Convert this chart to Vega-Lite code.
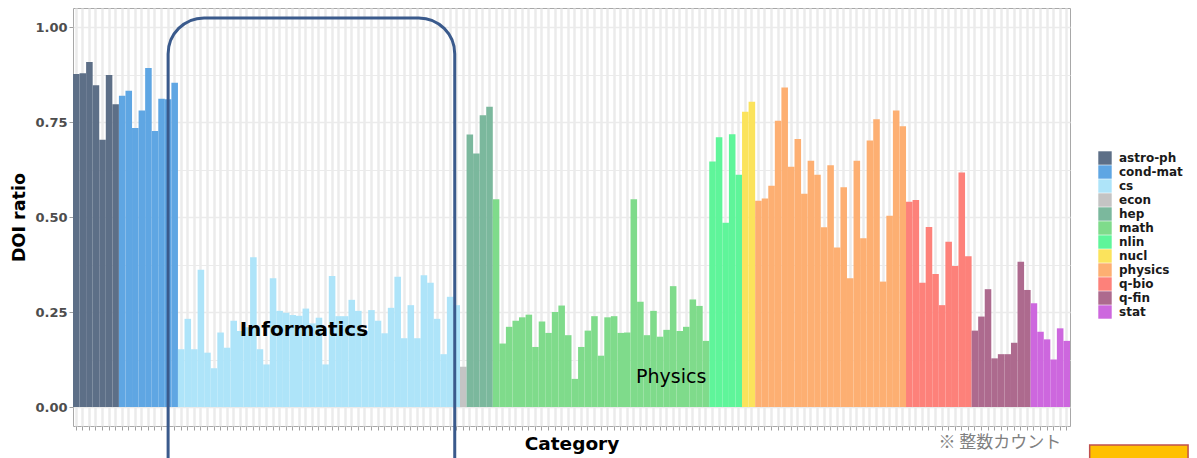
{
  "$schema": "https://vega.github.io/schema/vega-lite/v6.json",
  "width": 997,
  "height": 418,
  "autosize": {"type": "none"},
  "padding": {"left": 73, "top": 8, "right": 127, "bottom": 32},
  "background": "white",
  "config": {
    "view": {"stroke": "#a8a8a8", "strokeWidth": 1},
    "font": "DejaVu Sans",
    "legend": {
      "orient": "none", "legendX": 1025, "legendY": 143, "padding": 0,
      "symbolType": "square", "symbolSize": 180, "symbolStrokeWidth": 0, "symbolOpacity": 1,
      "labelFont": "DejaVu Sans", "labelFontWeight": "bold", "labelFontSize": 12, "labelColor": "#1a1a1a",
      "labelOffset": 7, "rowPadding": 0
    }
  },
  "datasets": {
    "bars": [
      {"id": "astro-ph 1", "group": "astro-ph", "ratio": 0.876},
      {"id": "astro-ph 2", "group": "astro-ph", "ratio": 0.878},
      {"id": "astro-ph 3", "group": "astro-ph", "ratio": 0.908},
      {"id": "astro-ph 4", "group": "astro-ph", "ratio": 0.847},
      {"id": "astro-ph 5", "group": "astro-ph", "ratio": 0.703},
      {"id": "astro-ph 6", "group": "astro-ph", "ratio": 0.874},
      {"id": "astro-ph 7", "group": "astro-ph", "ratio": 0.797},
      {"id": "cond-mat 1", "group": "cond-mat", "ratio": 0.819},
      {"id": "cond-mat 2", "group": "cond-mat", "ratio": 0.832},
      {"id": "cond-mat 3", "group": "cond-mat", "ratio": 0.734},
      {"id": "cond-mat 4", "group": "cond-mat", "ratio": 0.780},
      {"id": "cond-mat 5", "group": "cond-mat", "ratio": 0.892},
      {"id": "cond-mat 6", "group": "cond-mat", "ratio": 0.726},
      {"id": "cond-mat 7", "group": "cond-mat", "ratio": 0.811},
      {"id": "cond-mat 8", "group": "cond-mat", "ratio": 0.810},
      {"id": "cond-mat 9", "group": "cond-mat", "ratio": 0.853},
      {"id": "cs 1", "group": "cs", "ratio": 0.152},
      {"id": "cs 2", "group": "cs", "ratio": 0.232},
      {"id": "cs 3", "group": "cs", "ratio": 0.152},
      {"id": "cs 4", "group": "cs", "ratio": 0.361},
      {"id": "cs 5", "group": "cs", "ratio": 0.143},
      {"id": "cs 6", "group": "cs", "ratio": 0.102},
      {"id": "cs 7", "group": "cs", "ratio": 0.196},
      {"id": "cs 8", "group": "cs", "ratio": 0.156},
      {"id": "cs 9", "group": "cs", "ratio": 0.227},
      {"id": "cs 10", "group": "cs", "ratio": 0.200},
      {"id": "cs 11", "group": "cs", "ratio": 0.210},
      {"id": "cs 12", "group": "cs", "ratio": 0.394},
      {"id": "cs 13", "group": "cs", "ratio": 0.152},
      {"id": "cs 14", "group": "cs", "ratio": 0.112},
      {"id": "cs 15", "group": "cs", "ratio": 0.339},
      {"id": "cs 16", "group": "cs", "ratio": 0.253},
      {"id": "cs 17", "group": "cs", "ratio": 0.248},
      {"id": "cs 18", "group": "cs", "ratio": 0.242},
      {"id": "cs 19", "group": "cs", "ratio": 0.240},
      {"id": "cs 20", "group": "cs", "ratio": 0.259},
      {"id": "cs 21", "group": "cs", "ratio": 0.220},
      {"id": "cs 22", "group": "cs", "ratio": 0.235},
      {"id": "cs 23", "group": "cs", "ratio": 0.112},
      {"id": "cs 24", "group": "cs", "ratio": 0.345},
      {"id": "cs 25", "group": "cs", "ratio": 0.239},
      {"id": "cs 26", "group": "cs", "ratio": 0.239},
      {"id": "cs 27", "group": "cs", "ratio": 0.282},
      {"id": "cs 28", "group": "cs", "ratio": 0.253},
      {"id": "cs 29", "group": "cs", "ratio": 0.200},
      {"id": "cs 30", "group": "cs", "ratio": 0.255},
      {"id": "cs 31", "group": "cs", "ratio": 0.227},
      {"id": "cs 32", "group": "cs", "ratio": 0.194},
      {"id": "cs 33", "group": "cs", "ratio": 0.261},
      {"id": "cs 34", "group": "cs", "ratio": 0.343},
      {"id": "cs 35", "group": "cs", "ratio": 0.181},
      {"id": "cs 36", "group": "cs", "ratio": 0.268},
      {"id": "cs 37", "group": "cs", "ratio": 0.181},
      {"id": "cs 38", "group": "cs", "ratio": 0.347},
      {"id": "cs 39", "group": "cs", "ratio": 0.327},
      {"id": "cs 40", "group": "cs", "ratio": 0.232},
      {"id": "cs 41", "group": "cs", "ratio": 0.139},
      {"id": "cs 42", "group": "cs", "ratio": 0.290},
      {"id": "cs 43", "group": "cs", "ratio": 0.268},
      {"id": "econ 1", "group": "econ", "ratio": 0.106},
      {"id": "hep 1", "group": "hep", "ratio": 0.717},
      {"id": "hep 2", "group": "hep", "ratio": 0.667},
      {"id": "hep 3", "group": "hep", "ratio": 0.768},
      {"id": "hep 4", "group": "hep", "ratio": 0.790},
      {"id": "math 1", "group": "math", "ratio": 0.547},
      {"id": "math 2", "group": "math", "ratio": 0.167},
      {"id": "math 3", "group": "math", "ratio": 0.211},
      {"id": "math 4", "group": "math", "ratio": 0.227},
      {"id": "math 5", "group": "math", "ratio": 0.236},
      {"id": "math 6", "group": "math", "ratio": 0.243},
      {"id": "math 7", "group": "math", "ratio": 0.158},
      {"id": "math 8", "group": "math", "ratio": 0.225},
      {"id": "math 9", "group": "math", "ratio": 0.195},
      {"id": "math 10", "group": "math", "ratio": 0.250},
      {"id": "math 11", "group": "math", "ratio": 0.267},
      {"id": "math 12", "group": "math", "ratio": 0.189},
      {"id": "math 13", "group": "math", "ratio": 0.074},
      {"id": "math 14", "group": "math", "ratio": 0.158},
      {"id": "math 15", "group": "math", "ratio": 0.201},
      {"id": "math 16", "group": "math", "ratio": 0.239},
      {"id": "math 17", "group": "math", "ratio": 0.135},
      {"id": "math 18", "group": "math", "ratio": 0.236},
      {"id": "math 19", "group": "math", "ratio": 0.239},
      {"id": "math 20", "group": "math", "ratio": 0.195},
      {"id": "math 21", "group": "math", "ratio": 0.196},
      {"id": "math 22", "group": "math", "ratio": 0.547},
      {"id": "math 23", "group": "math", "ratio": 0.277},
      {"id": "math 24", "group": "math", "ratio": 0.189},
      {"id": "math 25", "group": "math", "ratio": 0.253},
      {"id": "math 26", "group": "math", "ratio": 0.185},
      {"id": "math 27", "group": "math", "ratio": 0.203},
      {"id": "math 28", "group": "math", "ratio": 0.318},
      {"id": "math 29", "group": "math", "ratio": 0.200},
      {"id": "math 30", "group": "math", "ratio": 0.211},
      {"id": "math 31", "group": "math", "ratio": 0.283},
      {"id": "math 32", "group": "math", "ratio": 0.266},
      {"id": "math 33", "group": "math", "ratio": 0.174},
      {"id": "nlin 1", "group": "nlin", "ratio": 0.646},
      {"id": "nlin 2", "group": "nlin", "ratio": 0.710},
      {"id": "nlin 3", "group": "nlin", "ratio": 0.485},
      {"id": "nlin 4", "group": "nlin", "ratio": 0.718},
      {"id": "nlin 5", "group": "nlin", "ratio": 0.611},
      {"id": "nucl 1", "group": "nucl", "ratio": 0.777},
      {"id": "nucl 2", "group": "nucl", "ratio": 0.803},
      {"id": "physics 1", "group": "physics", "ratio": 0.543},
      {"id": "physics 2", "group": "physics", "ratio": 0.549},
      {"id": "physics 3", "group": "physics", "ratio": 0.582},
      {"id": "physics 4", "group": "physics", "ratio": 0.753},
      {"id": "physics 5", "group": "physics", "ratio": 0.841},
      {"id": "physics 6", "group": "physics", "ratio": 0.632},
      {"id": "physics 7", "group": "physics", "ratio": 0.705},
      {"id": "physics 8", "group": "physics", "ratio": 0.561},
      {"id": "physics 9", "group": "physics", "ratio": 0.648},
      {"id": "physics 10", "group": "physics", "ratio": 0.611},
      {"id": "physics 11", "group": "physics", "ratio": 0.473},
      {"id": "physics 12", "group": "physics", "ratio": 0.636},
      {"id": "physics 13", "group": "physics", "ratio": 0.420},
      {"id": "physics 14", "group": "physics", "ratio": 0.578},
      {"id": "physics 15", "group": "physics", "ratio": 0.339},
      {"id": "physics 16", "group": "physics", "ratio": 0.648},
      {"id": "physics 17", "group": "physics", "ratio": 0.444},
      {"id": "physics 18", "group": "physics", "ratio": 0.701},
      {"id": "physics 19", "group": "physics", "ratio": 0.757},
      {"id": "physics 20", "group": "physics", "ratio": 0.330},
      {"id": "physics 21", "group": "physics", "ratio": 0.503},
      {"id": "physics 22", "group": "physics", "ratio": 0.780},
      {"id": "physics 23", "group": "physics", "ratio": 0.739},
      {"id": "q-bio 1", "group": "q-bio", "ratio": 0.540},
      {"id": "q-bio 2", "group": "q-bio", "ratio": 0.545},
      {"id": "q-bio 3", "group": "q-bio", "ratio": 0.327},
      {"id": "q-bio 4", "group": "q-bio", "ratio": 0.474},
      {"id": "q-bio 5", "group": "q-bio", "ratio": 0.350},
      {"id": "q-bio 6", "group": "q-bio", "ratio": 0.268},
      {"id": "q-bio 7", "group": "q-bio", "ratio": 0.435},
      {"id": "q-bio 8", "group": "q-bio", "ratio": 0.371},
      {"id": "q-bio 9", "group": "q-bio", "ratio": 0.617},
      {"id": "q-bio 10", "group": "q-bio", "ratio": 0.397},
      {"id": "q-fin 1", "group": "q-fin", "ratio": 0.201},
      {"id": "q-fin 2", "group": "q-fin", "ratio": 0.238},
      {"id": "q-fin 3", "group": "q-fin", "ratio": 0.310},
      {"id": "q-fin 4", "group": "q-fin", "ratio": 0.128},
      {"id": "q-fin 5", "group": "q-fin", "ratio": 0.139},
      {"id": "q-fin 6", "group": "q-fin", "ratio": 0.139},
      {"id": "q-fin 7", "group": "q-fin", "ratio": 0.169},
      {"id": "q-fin 8", "group": "q-fin", "ratio": 0.382},
      {"id": "q-fin 9", "group": "q-fin", "ratio": 0.308},
      {"id": "stat 1", "group": "stat", "ratio": 0.273},
      {"id": "stat 2", "group": "stat", "ratio": 0.198},
      {"id": "stat 3", "group": "stat", "ratio": 0.178},
      {"id": "stat 4", "group": "stat", "ratio": 0.125},
      {"id": "stat 5", "group": "stat", "ratio": 0.207},
      {"id": "stat 6", "group": "stat", "ratio": 0.174}
    ],
    "frame": [{"x1": 14.5, "x2": 58.2, "y1": 1.024, "y2": -0.4}],
    "tag": [{"x1": 155.0, "x2": 170.0, "y1": -0.1, "y2": -0.3}],
    "informatics": [{"label": "Informatics", "x": 35.2, "y": 0.203}],
    "physics": [{"label": "Physics", "x": 91.2, "y": 0.079}],
    "note": [{"label": "※ 整数カウント", "x": 141.3, "y": -0.095}]
  },
  "layer": [
    {
      "data": {"name": "bars"},
      "mark": {"type": "bar", "strokeWidth": 0},
      "encoding": {
        "x": {
          "field": "id", "type": "nominal", "sort": null,
          "scale": {"paddingInner": 0, "paddingOuter": 0},
          "axis": {
            "title": "Category", "labels": false, "domain": false,
            "ticks": true, "tickSize": 4, "tickColor": "#a0a0a0", "tickWidth": 1,
            "grid": true, "gridColor": "#ebebeb", "gridWidth": 2.5,
            "titleFont": "DejaVu Sans", "titleFontSize": 18.5, "titleFontWeight": "bold",
            "titleColor": "#000000", "titlePadding": 4
          }
        },
        "y": {
          "field": "ratio", "type": "quantitative",
          "scale": {"domain": [-0.05, 1.05], "nice": false, "zero": false},
          "axis": {
            "title": "DOI ratio",
            "values": [0, 0.125, 0.25, 0.375, 0.5, 0.625, 0.75, 0.875, 1],
            "labelExpr": "(datum.value * 4) % 1 === 0 ? format(datum.value, '.2f') : ''",
            "domain": false,
            "tickSize": 4, "tickColor": "#a0a0a0",
            "tickOpacity": {"condition": {"test": "(datum.value * 4) % 1 === 0", "value": 1}, "value": 0},
            "grid": true, "gridColor": "#ebebeb",
            "gridWidth": {"condition": {"test": "(datum.value * 4) % 1 === 0", "value": 1.6}, "value": 1},
            "labelFont": "DejaVu Sans", "labelFontWeight": "bold", "labelFontSize": 13,
            "labelColor": "#4d4d4d", "labelPadding": 2,
            "titleFont": "DejaVu Sans", "titleFontSize": 17.5, "titleFontWeight": "bold",
            "titleColor": "#000000", "titlePadding": 6
          }
        },
        "color": {
          "field": "group", "type": "nominal",
          "scale": {
            "domain": ["astro-ph", "cond-mat", "cs", "econ", "hep", "math", "nlin", "nucl", "physics", "q-bio", "q-fin", "stat"],
            "range": ["#5d6f87", "#5fa6e3", "#aee4f9", "#c4c4c4", "#7bb89d", "#7fdb8b", "#5ff59a", "#fbe35c", "#fdaf72", "#fd817a", "#ad6a8e", "#cd67de"]
          },
          "legend": {"title": null}
        }
      }
    },
    {
      "data": {"name": "frame"},
      "mark": {"type": "rect", "fillOpacity": 0, "stroke": "#3a5a8c", "strokeWidth": 3, "cornerRadius": 36, "clip": false},
      "encoding": {
        "x": {"field": "x1", "type": "quantitative", "scale": {"domain": [0, 152], "nice": false, "zero": false}, "axis": null},
        "x2": {"field": "x2"},
        "y": {"field": "y1", "type": "quantitative", "scale": {"domain": [-0.05, 1.05], "nice": false, "zero": false}, "axis": null},
        "y2": {"field": "y2"}
      }
    },
    {
      "data": {"name": "tag"},
      "mark": {"type": "rect", "fill": "#ffc000", "stroke": "#c0504d", "strokeWidth": 1.5, "clip": false},
      "encoding": {
        "x": {"field": "x1", "type": "quantitative", "scale": {"domain": [0, 152], "nice": false, "zero": false}, "axis": null},
        "x2": {"field": "x2"},
        "y": {"field": "y1", "type": "quantitative", "scale": {"domain": [-0.05, 1.05], "nice": false, "zero": false}, "axis": null},
        "y2": {"field": "y2"}
      }
    },
    {
      "data": {"name": "informatics"},
      "mark": {"type": "text", "font": "DejaVu Sans", "fontWeight": "bold", "fontSize": 20, "color": "#000000", "align": "center", "baseline": "middle", "clip": false},
      "encoding": {
        "x": {"field": "x", "type": "quantitative", "scale": {"domain": [0, 152], "nice": false, "zero": false}, "axis": null},
        "y": {"field": "y", "type": "quantitative", "scale": {"domain": [-0.05, 1.05], "nice": false, "zero": false}, "axis": null},
        "text": {"field": "label"}
      }
    },
    {
      "data": {"name": "physics"},
      "mark": {"type": "text", "font": "DejaVu Sans", "fontSize": 19, "color": "#000000", "align": "center", "baseline": "middle", "clip": false},
      "encoding": {
        "x": {"field": "x", "type": "quantitative", "scale": {"domain": [0, 152], "nice": false, "zero": false}, "axis": null},
        "y": {"field": "y", "type": "quantitative", "scale": {"domain": [-0.05, 1.05], "nice": false, "zero": false}, "axis": null},
        "text": {"field": "label"}
      }
    },
    {
      "data": {"name": "note"},
      "mark": {"type": "text", "font": "Noto Sans CJK JP", "fontSize": 17, "color": "#808080", "align": "center", "baseline": "middle", "clip": false},
      "encoding": {
        "x": {"field": "x", "type": "quantitative", "scale": {"domain": [0, 152], "nice": false, "zero": false}, "axis": null},
        "y": {"field": "y", "type": "quantitative", "scale": {"domain": [-0.05, 1.05], "nice": false, "zero": false}, "axis": null},
        "text": {"field": "label"}
      }
    }
  ],
  "resolve": {"scale": {"x": "independent", "y": "independent"}}
}
